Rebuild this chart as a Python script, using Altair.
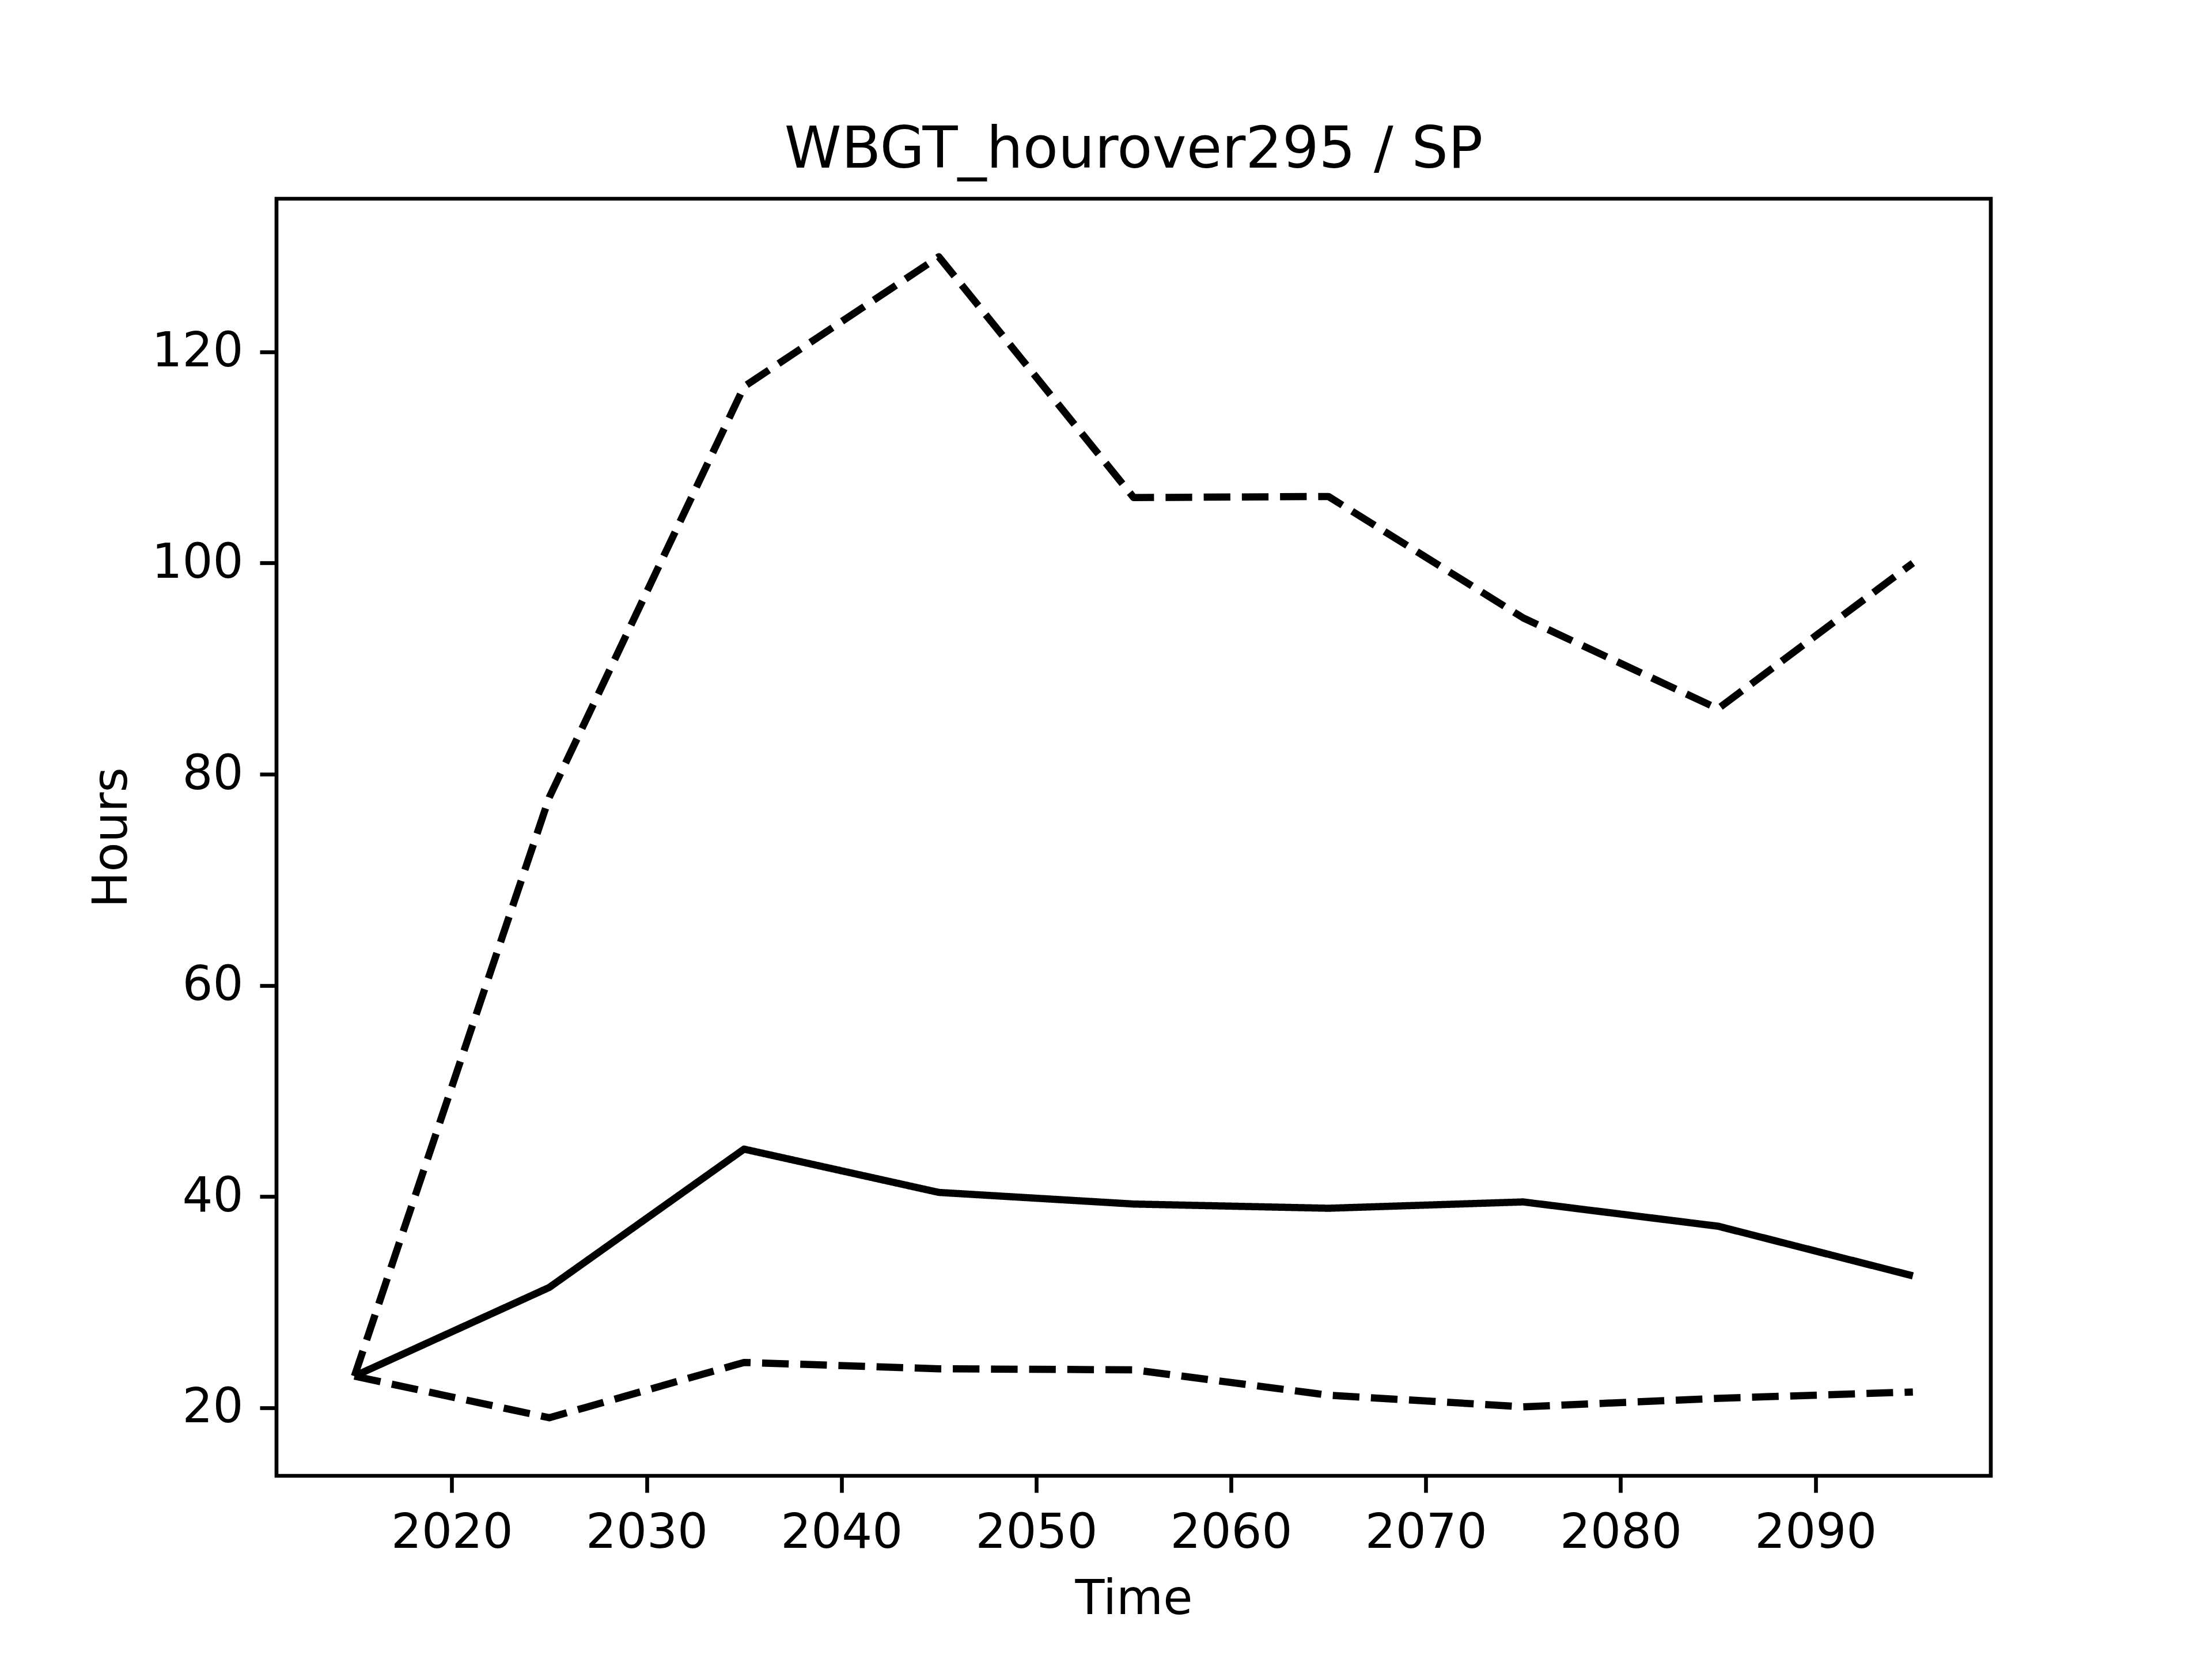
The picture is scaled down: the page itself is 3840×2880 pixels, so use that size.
import altair as alt
import pandas as pd

years = [2015, 2025, 2035, 2045, 2055, 2065, 2075, 2085, 2095]
median = [23.0, 31.4, 44.5, 40.4, 39.3, 38.9, 39.5, 37.2, 32.5]
upper = [23.0, 77.8, 116.7, 129.0, 106.2, 106.3, 94.8, 86.2, 100.0]
lower = [23.0, 19.06, 24.3, 23.7, 23.6, 21.2, 20.1, 20.9, 21.5]

x_ticks = [2020, 2030, 2040, 2050, 2060, 2070, 2080, 2090]
y_ticks = [20, 40, 60, 80, 100, 120]

rows = []
for name, vals in [("upper", upper), ("median", median), ("lower", lower)]:
    for yr, v in zip(years, vals):
        rows.append({"year": yr, "value": v, "series": name})
df = pd.DataFrame(rows)

lo = min(lower)
hi = max(upper)
m = (hi - lo) * 0.05

FONT = "DejaVu Sans"
W, H = 2976, 2217

chart = (
    alt.Chart(df)
    .mark_line(color="black", strokeWidth=12.5, strokeJoin="round", strokeCap="butt")
    .encode(
        x=alt.X(
            "year:Q",
            scale=alt.Scale(domain=[2011, 2099], nice=False, zero=False),
            axis=alt.Axis(values=x_ticks, format="d", title="Time",
                          titleX=W / 2, titleY=239, titleBaseline="alphabetic",
                          titleAlign="center"),
        ),
        y=alt.Y(
            "value:Q",
            scale=alt.Scale(domain=[lo - m, hi + m], nice=False, zero=False),
            axis=alt.Axis(values=y_ticks, format="d", title="Hours",
                          titleX=-261, titleY=H / 2, titleAngle=270,
                          titleBaseline="alphabetic", titleAlign="center"),
        ),
        strokeDash=alt.StrokeDash(
            "series:N",
            scale=alt.Scale(domain=["median", "upper", "lower"],
                            range=[[1, 0], [46.25, 20], [46.25, 20]]),
            legend=None,
        ),
        detail="series:N",
    )
    .properties(
        width=W,
        height=H,
        background="white",
        title=alt.TitleParams(
            "WBGT_hourover295 / SP",
            font=FONT,
            fontSize=100,
            fontWeight="normal",
            color="black",
            anchor="middle",
            baseline="alphabetic",
            offset=49,
            dy=95,
        ),
        autosize=alt.AutoSizeParams(type="none"),
        padding={"left": 472, "top": 337, "right": 376, "bottom": 310},
    )
    .configure_view(stroke="black", strokeWidth=6.67, fill="white")
    .configure_axis(
        grid=False,
        domain=False,
        labelFont=FONT,
        labelFontSize=83.3,
        labelColor="black",
        labelLimit=0,
        tickColor="black",
        tickSize=29,
        tickWidth=6.67,
        labelPadding=29,
        titleFont=FONT,
        titleFontSize=83.3,
        titleFontWeight="normal",
        titleColor="black",
    )
)

chart.save("out.html", embed_options={"renderer": "svg", "actions": False})
